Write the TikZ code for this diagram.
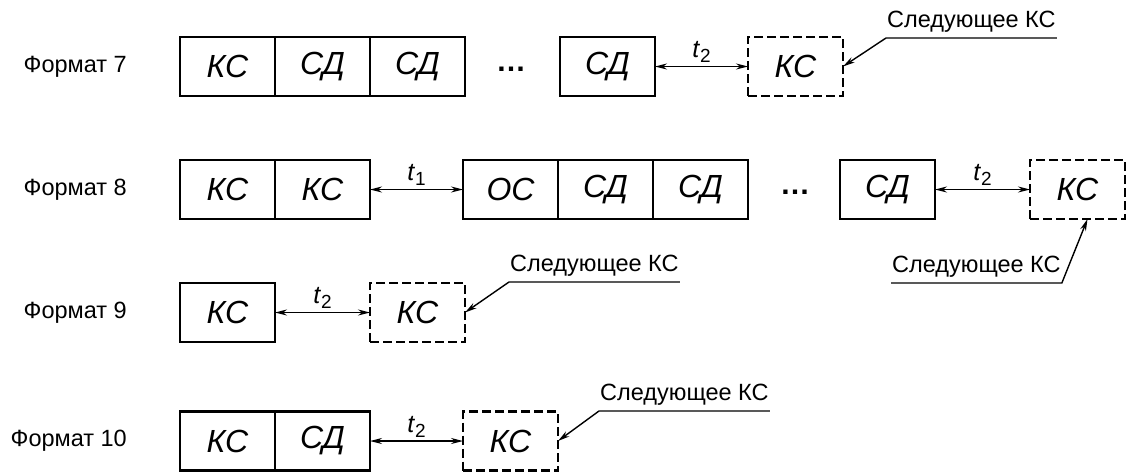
\documentclass[tikz,border=0pt]{standalone}
\usepackage{fontspec}
\setmainfont{Liberation Sans}
\usetikzlibrary{arrows.meta}
\begin{document}
\begin{tikzpicture}[x=1pt,y=-1pt,
  cell/.style={draw, line width=2.4pt, minimum width=95pt, minimum height=59pt, inner sep=0pt, outer sep=0pt, font=\fontsize{32}{32}\selectfont\itshape},
  dcell/.style={cell, dash pattern=on 9pt off 4pt},
  fmt/.style={anchor=east, font=\fontsize{23.5}{23.5}\selectfont, inner sep=0pt},
  nxt/.style={font=\fontsize{23.5}{23.5}\selectfont, anchor=south west, inner xsep=1pt, inner ysep=5pt},
  dim/.style={line width=1.4pt, {Stealth[length=12pt,width=6pt]}-{Stealth[length=12pt,width=6pt]}},
  lead/.style={line width=1.4pt, -{Stealth[length=12pt,width=6pt]}},
  tl/.style={above=3pt, font=\fontsize{25}{25}\selectfont, inner sep=0pt},
  dotsn/.style={font=\fontsize{30}{30}\selectfont\bfseries, inner sep=0pt}
]
\useasboundingbox (0,0) rectangle (1126,472);
\newcommand{\ttwo}{\textit{t}\raisebox{-5pt}{\fontsize{19}{19}\selectfont 2}}
\newcommand{\tone}{\textit{t}\raisebox{-5pt}{\fontsize{19}{19}\selectfont 1}}

% Row 1
\node[fmt] (f7) at (127,66.5) {Формат 7};
\node[cell] (r1a) at (227.5,66.5) {КС};
\node[cell] (r1b) at (322.5,66.5) {СД};
\node[cell] (r1c) at (417.5,66.5) {СД};
\node[dotsn] (d1) at (511,69) {…};
\node[cell] (r1d) at (607.5,66.5) {СД};
\node[dcell] (r1e) at (795.5,66.5) {КС};
\draw[dim] (r1d.east) -- node[tl] (t1a) {\ttwo} (r1e.west);
\node[nxt] (n1) at (886,38) {Следующее КС};
\draw[lead] (n1.south east) -- (n1.south west) -- (r1e.east);

% Row 2
\node[fmt] (f8) at (127,189.5) {Формат 8};
\node[cell] (r2a) at (227.5,189.5) {КС};
\node[cell] (r2b) at (322.5,189.5) {КС};
\node[cell] (r2c) at (510.5,189.5) {ОС};
\node[cell] (r2d) at (605.5,189.5) {СД};
\node[cell] (r2e) at (700.5,189.5) {СД};
\node[dotsn] (d2) at (795,192) {…};
\node[cell] (r2f) at (887.5,189.5) {СД};
\node[dcell] (r2g) at (1077.5,189.5) {КС};
\draw[dim] (r2b.east) -- node[tl] (t2a) {\tone} (r2c.west);
\draw[dim] (r2f.east) -- node[tl] (t2b) {\ttwo} (r2g.west);
\coordinate (tip2) at ([xshift=10pt]r2g.south);
\node[nxt] (n2) at (891,283) {Следующее КС};
\draw[lead] (n2.south west) -- (n2.south east) -- (tip2);

% Row 3
\node[fmt] (f9) at (127,312.5) {Формат 9};
\node[cell] (r3a) at (227.5,312.5) {КС};
\node[dcell] (r3b) at (417.5,312.5) {КС};
\draw[dim] (r3a.east) -- node[tl] (t3a) {\ttwo} (r3b.west);
\node[nxt] (n3) at (509,282) {Следующее КС};
\draw[lead] (n3.south east) -- (n3.south west) -- (r3b.east);

% Row 4
\node[fmt] (f10) at (127,441) {Формат 10};
\node[cell] (r4a) at (227.5,441) {КС};
\node[cell] (r4b) at (322.5,441) {СД};
\node[dcell] (r4c) at (510.5,441) {КС};
\draw[dim] (r4b.east) -- node[tl] (t4a) {\ttwo} (r4c.west);
\node[nxt] (n4) at (599,411) {Следующее КС};
\draw[lead] (n4.south east) -- (n4.south west) -- (r4c.east);
\end{tikzpicture}
\end{document}
